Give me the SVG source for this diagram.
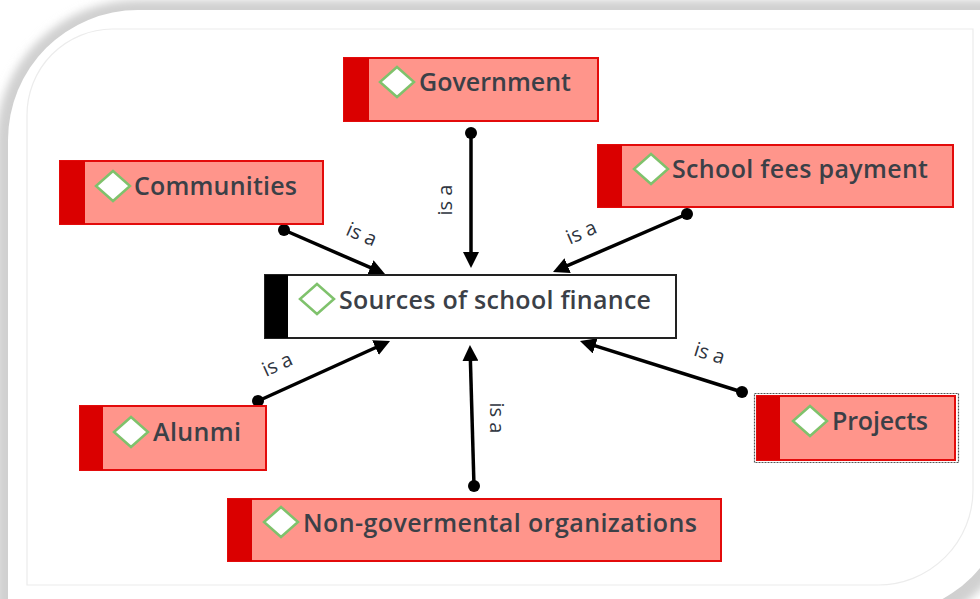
<svg xmlns="http://www.w3.org/2000/svg" width="980" height="599" viewBox="0 0 980 599">
  <style>
    .node-fill { fill: #ff958b; stroke: #e30b0b; stroke-width: 2; }
    .node-bar { fill: #da0000; }
    .label { font-family: "Open Sans", "Noto Sans", "Liberation Sans", sans-serif; font-size: 25px; font-weight: 600; fill: #3b4047; }
    .rel { font-family: "Open Sans", "Noto Sans", "Liberation Sans", sans-serif; font-size: 20px; fill: #2e3440; text-anchor: middle; }
    .edge { stroke: #000; stroke-width: 3.5; fill: none; marker-end: url(#arrow); }
    .dot { fill: #000; }
  </style>
  <defs>
    <filter id="shadow" x="-10%" y="-10%" width="120%" height="120%">
      <feGaussianBlur stdDeviation="4"/>
    </filter>
    <filter id="soft" x="-30%" y="-30%" width="160%" height="160%">
      <feGaussianBlur stdDeviation="0.6"/>
    </filter>
    <marker id="arrow" markerUnits="userSpaceOnUse" markerWidth="18" markerHeight="16" refX="4" refY="8" orient="auto">
      <path d="M0,0 L16,8 L0,16 z" fill="#000"/>
    </marker>
    <symbol id="diamond" overflow="visible">
      <path d="M0,-15 L17,0 L0,15 L-17,0 z" fill="#ffffff" stroke="#7fc26c" stroke-width="2.5" filter="url(#soft)"/>
    </symbol>
  </defs>

  <!-- page frame: sheet with rounded top-left and bottom-right corners -->
  <rect width="980" height="599" fill="#ffffff"/>
  <path d="M-4,142 A142,142 0 0 1 138,0 L1020,0 L1020,492 A140,140 0 0 1 880,632 L-4,632 Z" fill="#d0d0d0" filter="url(#shadow)"/>
  <path d="M8,140 A130,130 0 0 1 138,10 L1010,10 L1010,485 A130,130 0 0 1 880,615 L8,615 Z" fill="#ffffff"/>
  <path d="M27,115 A86,86 0 0 1 112,29 L973,29 L973,490 A95,95 0 0 1 878,585 L27,585 Z" fill="none" stroke="#ececec" stroke-width="1.2"/>

  <!-- connectors -->
  <g id="connectors">
    <line class="edge" x1="471" y1="133" x2="471" y2="256"/>
    <circle class="dot" cx="471" cy="133" r="6"/>
    <text class="rel" transform="translate(452,200) rotate(-90)">is a</text>

    <line class="edge" x1="284" y1="230" x2="374" y2="269.2"/>
    <circle class="dot" cx="284" cy="230" r="6"/>
    <text class="rel" transform="translate(361,236) rotate(23.5)" y="5">is a</text>

    <line class="edge" x1="687" y1="214" x2="564" y2="267.2"/>
    <circle class="dot" cx="687" cy="214" r="6"/>
    <text class="rel" transform="translate(582,234) rotate(-23.4)" y="5">is a</text>

    <line class="edge" x1="258" y1="401" x2="379.1" y2="346"/>
    <circle class="dot" cx="258" cy="401" r="6"/>
    <text class="rel" transform="translate(278,366) rotate(-24.4)" y="5">is a</text>

    <line class="edge" x1="474" y1="486" x2="470.3" y2="357"/>
    <circle class="dot" cx="474" cy="486" r="6"/>
    <text class="rel" transform="translate(490,418) rotate(90)">is a</text>

    <line class="edge" x1="742" y1="392" x2="591.4" y2="344.6"/>
    <circle class="dot" cx="742" cy="392" r="6"/>
    <text class="rel" transform="translate(709,355) rotate(17.5)" y="5">is a</text>
  </g>

  <!-- central concept -->
  <g id="sources">
    <rect x="265" y="275" width="411" height="63" fill="#ffffff" stroke="#222" stroke-width="2"/>
    <rect x="265" y="275" width="23" height="63" fill="#000"/>
    <path d="M317,284 L334,299 L317,314 L300,299 z" fill="#ffffff" stroke="#7fc26c" stroke-width="2.5"/>
    <text class="label" x="339" y="309" textLength="312">Sources of school finance</text>
  </g>

  <g id="government">
    <rect class="node-fill" x="344" y="58" width="254" height="63"/>
    <rect class="node-bar" x="344" y="58" width="25" height="63"/>
    <use href="#diamond" x="397" y="82"/>
    <text class="label" x="419" y="91" textLength="152">Government</text>
  </g>

  <g id="communities">
    <rect class="node-fill" x="60" y="161" width="263" height="63"/>
    <rect class="node-bar" x="60" y="161" width="25" height="63"/>
    <use href="#diamond" x="113" y="186"/>
    <text class="label" x="134" y="195" textLength="163">Communities</text>
  </g>

  <g id="school-fees">
    <rect class="node-fill" x="598" y="145" width="355" height="62"/>
    <rect class="node-bar" x="598" y="145" width="24" height="62"/>
    <use href="#diamond" x="651" y="169"/>
    <text class="label" x="672" y="178" textLength="256">School fees payment</text>
  </g>

  <g id="alumni">
    <rect class="node-fill" x="80" y="406" width="186" height="64"/>
    <rect class="node-bar" x="80" y="406" width="23" height="64"/>
    <use href="#diamond" x="131" y="432"/>
    <text class="label" x="153" y="441" textLength="88">Alunmi</text>
  </g>

  <g id="projects">
    <rect x="754.5" y="393.5" width="204" height="69" fill="none" stroke="#555" stroke-width="1.2" stroke-dasharray="2,1"/>
    <rect class="node-fill" x="757" y="396" width="198" height="64"/>
    <rect class="node-bar" x="757" y="396" width="23" height="64"/>
    <use href="#diamond" x="810" y="421"/>
    <text class="label" x="832" y="430" textLength="96">Projects</text>
  </g>

  <g id="ngos">
    <rect class="node-fill" x="228" y="499" width="493" height="62"/>
    <rect class="node-bar" x="228" y="499" width="24" height="62"/>
    <use href="#diamond" x="281" y="522"/>
    <text class="label" x="303" y="532" textLength="394">Non-govermental organizations</text>
  </g>
</svg>
